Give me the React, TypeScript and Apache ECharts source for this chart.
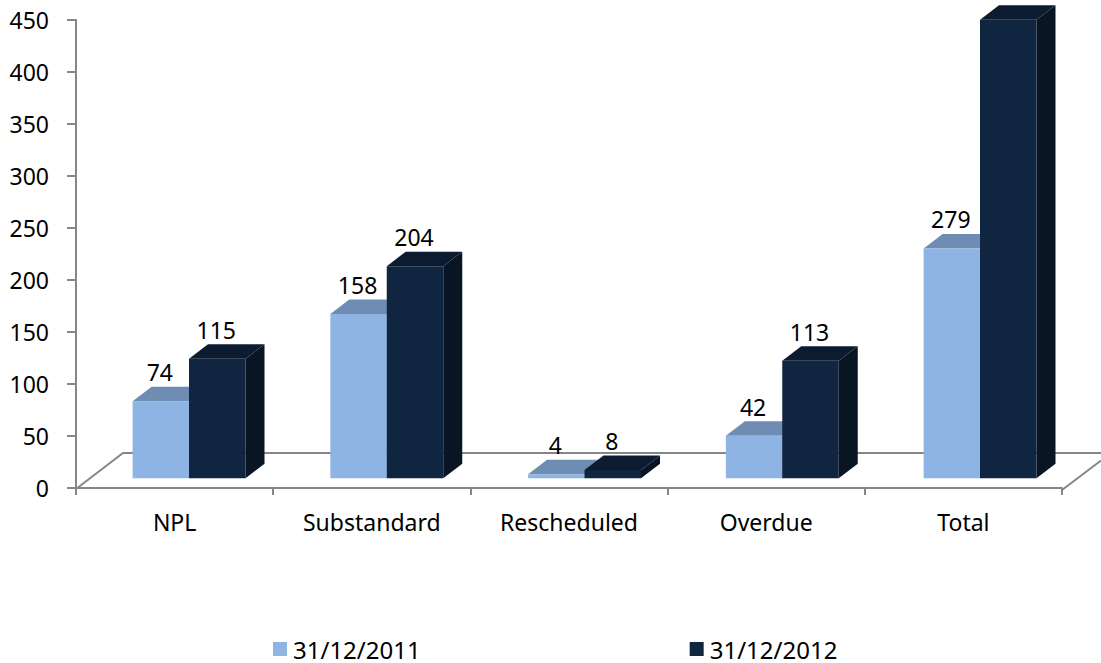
import React, { useEffect, useRef } from "react";
import * as echarts from "echarts";

const categories = ["NPL", "Substandard", "Rescheduled", "Overdue", "Total"];
const series2011 = [74, 158, 4, 41, 221];
const series2012 = [115, 204, 8, 113, 441];
const labels2011 = ["74", "158", "4", "42", "279"];
const labels2012 = ["115", "204", "8", "113", "440"];
const yTicks = { min: 0, max: 450, interval: 50 };
const FONT = "'Noto Sans', sans-serif";

const BAR_W = 56.5;
const DX = 19;
const DY = 14.5;
const BASE_LIFT = 9.7;
const BAND_DRIFT = 0.55;

function barRenderer(
  startOffset: number,
  front: string,
  top: string,
  side: string,
  labels: string[]
) {
  return (params: any, api: any) => {
    const i = api.value(0);
    const v = api.value(1);
    const b = api.coord([i, 0]);
    const t = api.coord([i, v]);
    const x0 = b[0] + startOffset + i * BAND_DRIFT;
    const x1 = x0 + BAR_W;
    const yb = b[1] - BASE_LIFT;
    const yt = t[1] - BASE_LIFT;
    return {
      type: "group",
      children: [
        {
          type: "polygon",
          shape: { points: [[x1, yt], [x1 + DX, yt - DY], [x1 + DX, yb - DY], [x1, yb]] },
          style: { fill: side },
        },
        {
          type: "polygon",
          shape: { points: [[x0, yt], [x0 + DX, yt - DY], [x1 + DX, yt - DY], [x1, yt]] },
          style: { fill: top },
        },
        {
          type: "rect",
          shape: { x: x0, y: yt, width: BAR_W, height: yb - yt },
          style: { fill: front },
        },
        {
          type: "text",
          style: {
            x: x0 + BAR_W / 2 - 1,
            y: yt - 29,
            text: labels[params.dataIndex],
            fill: "#000000",
            font: `23px ${FONT}`,
            align: "center",
            verticalAlign: "middle",
          },
        },
      ],
    };
  };
}

export default function App() {
  const ref = useRef<HTMLDivElement>(null);
  useEffect(() => {
    const chart = echarts.init(ref.current!, undefined, { renderer: "svg" });
    chart.setOption({
      animation: false,
      backgroundColor: "#ffffff",
      grid: { left: 76, top: 20, width: 986, height: 468, containLabel: false },
      xAxis: {
        type: "category",
        data: categories,
        offset: 2,
        axisLine: { lineStyle: { color: "#868686", width: 2 } },
        axisTick: { show: true, length: 7, lineStyle: { color: "#868686", width: 2 } },
        axisLabel: { color: "#000", fontSize: 23, fontFamily: FONT, margin: 20, interval: 0 },
      },
      yAxis: {
        type: "value",
        ...yTicks,
        splitLine: { show: false },
        axisLine: { show: true, lineStyle: { color: "#868686", width: 2 } },
        axisTick: { show: true, length: 9, lineStyle: { color: "#868686", width: 2 } },
        axisLabel: { color: "#000", fontSize: 23, fontFamily: FONT, margin: 27 },
      },
      legend: {
        left: 268,
        top: 632,
        itemWidth: 14,
        itemHeight: 14,
        itemGap: 269,
        icon: "rect",
        textStyle: { color: "#000", fontSize: 24, fontFamily: FONT, padding: [0, 0, 0, 1] },
        data: [
          { name: "31/12/2011", itemStyle: { color: "#8DB4E2" } },
          { name: "31/12/2012", itemStyle: { color: "#10253F" } },
        ],
      },
      graphic: {
        elements: [
          {
            type: "polyline",
            z: 0,
            shape: { points: [[76, 489], [123, 453], [1101, 453]] },
            style: { stroke: "#868686", lineWidth: 2, fill: "none" },
          },
          {
            type: "line",
            z: 0,
            shape: { x1: 1062, y1: 490, x2: 1101, y2: 460.5 },
            style: { stroke: "#868686", lineWidth: 2 },
          },
        ],
      },
      series: [
        {
          type: "custom",
          name: "31/12/2011",
          z: 5,
          clip: false,
          itemStyle: { color: "#8DB4E2" },
          renderItem: barRenderer(-42, "#8DB4E2", "#6F8DB2", "#5F7A9C", labels2011),
          data: series2011.map((v, i) => [i, v]),
          encode: { x: 0, y: 1 },
        },
        {
          type: "custom",
          name: "31/12/2012",
          z: 6,
          clip: false,
          itemStyle: { color: "#10253F" },
          renderItem: barRenderer(14.4, "#10253F", "#0C1C30", "#0A1524", labels2012),
          data: series2012.map((v, i) => [i, v]),
          encode: { x: 0, y: 1 },
        },
      ],
    });
    return () => chart.dispose();
  }, []);
  return (
    <div
      ref={ref}
      style={{ position: "absolute", left: 0, top: 0, width: 1101, height: 663 }}
    />
  );
}
